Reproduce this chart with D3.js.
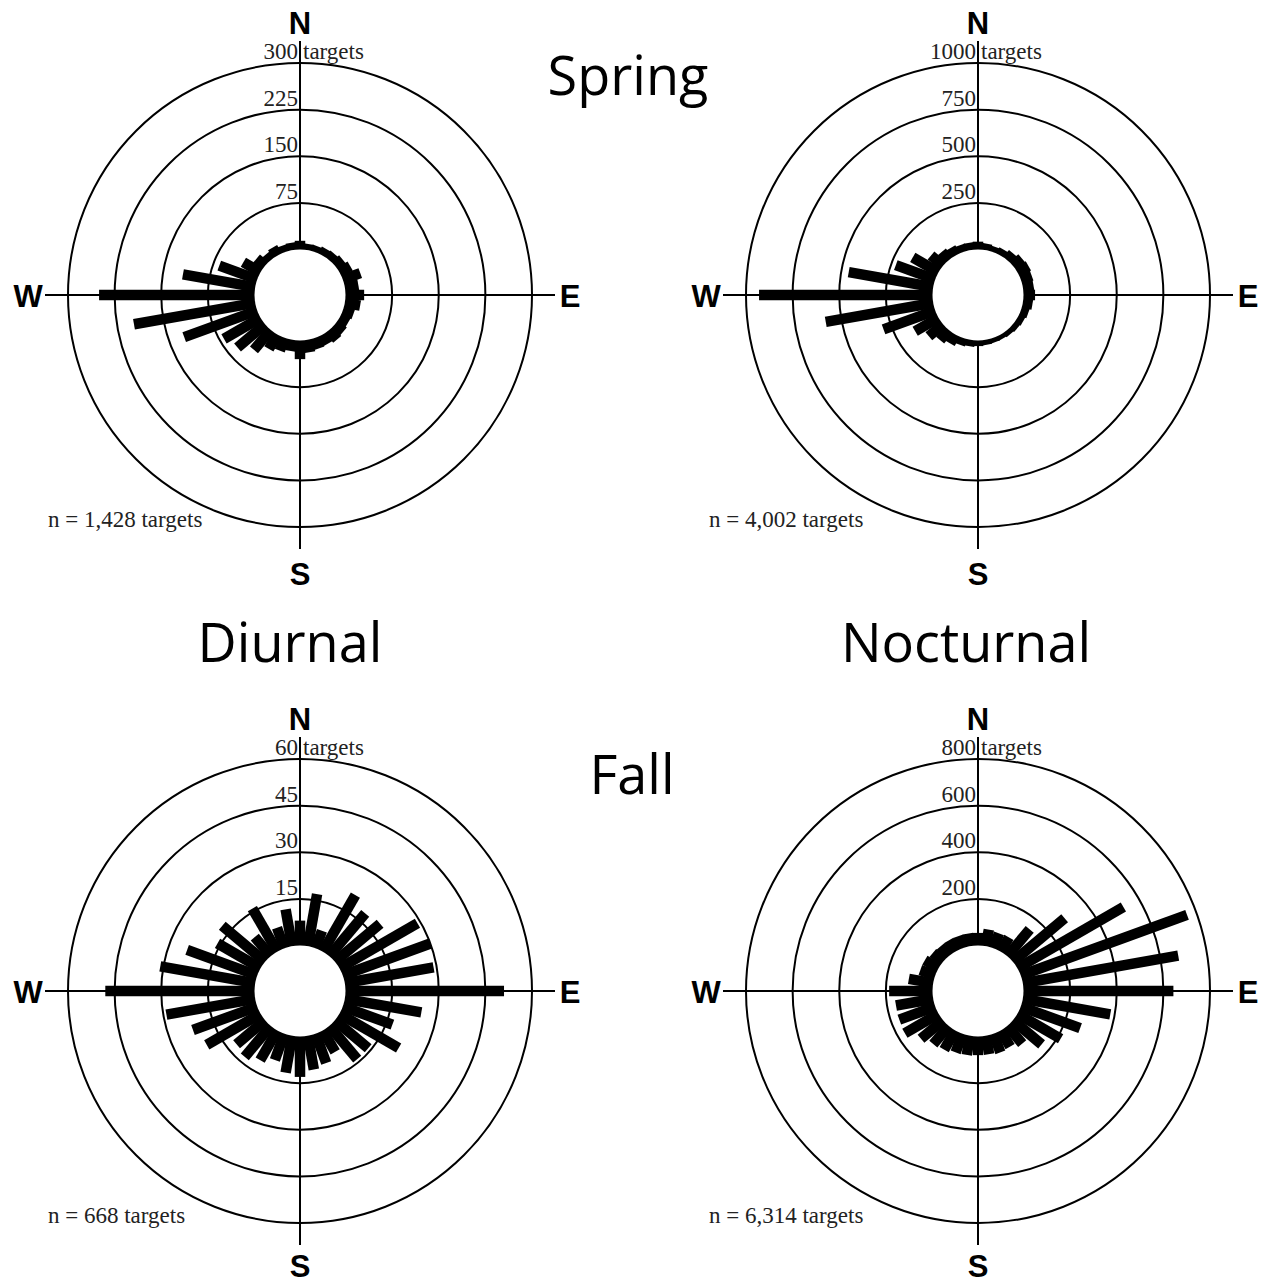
<!DOCTYPE html>
<html>
<head>
<meta charset="utf-8">
<script src="https://cdn.jsdelivr.net/npm/d3@7"></script>
<style>
  body { margin: 0; background: #fff; }
  svg { display: block; }
</style>
</head>
<body>
<div class="canvas"></div>
<script>
// bearings of the 36 bins (degrees from north, clockwise)
const bearings = d3.range(0, 360, 10)

// counts per bin
const springDiurnal = [14, 10, 10, 12, 13, 16, 20, 30, 22, 30,
    25, 18, 16, 18, 20, 17, 18, 20, 30, 18,
    22, 27, 42, 58, 68, 125, 198, 250, 118, 65,
    32, 18, 12, 15, 11, 12]
const springNocturnal = [42, 35, 30, 35, 48, 62, 68, 62, 58, 62,
    52, 42, 36, 32, 28, 25, 25, 27, 30, 34,
    40, 55, 72, 100, 145, 295, 585, 930, 460, 225,
    160, 85, 58, 48, 40, 40]
const fallDiurnal = [8, 17, 6, 21, 18, 19, 29, 30, 29, 51,
    25, 17, 22, 14, 14, 8, 10, 11, 13, 12,
    9, 11, 13, 12, 20, 22, 29, 48, 31, 24,
    16, 18, 8, 16, 7, 12]
const fallNocturnal = [54, 72, 68, 70, 150, 290, 525, 759, 677, 643,
    381, 271, 214, 161, 100, 80, 85, 80, 80, 83,
    85, 95, 103, 124, 167, 164, 162, 186, 106, 68,
    68, 58, 55, 55, 55, 55]

// ring tick labels for each rose
const springDiurnalTicks = [75, 150, 225, 300]
const springNocturnalTicks = [250, 500, 750, 1000]
const fallDiurnalTicks = [15, 30, 45, 60]
const fallNocturnalTicks = [200, 400, 600, 800]

const totals = ["n = 1,428 targets", "n = 4,002 targets", "n = 668 targets", "n = 6,314 targets"]
const titles = ["Spring", "Diurnal", "Nocturnal", "Fall"]

const width = 1264
const height = 1285

const svg = d3.select(".canvas")
    .append("svg")
    .attr("width", width)
    .attr("height", height)

const innerR = 45.5
const outerR = 232
const barWidth = 10.5

const panels = [
    { cx: 300, cy: 295, sY: 290, nX: -252, values: springDiurnal, ticks: springDiurnalTicks, n: totals[0] },
    { cx: 978, cy: 295, sY: 290, nX: -269, values: springNocturnal, ticks: springNocturnalTicks, n: totals[1] },
    { cx: 300, cy: 991, sY: 286, nX: -252, values: fallDiurnal, ticks: fallDiurnalTicks, n: totals[2] },
    { cx: 978, cy: 991, sY: 286, nX: -269, values: fallNocturnal, ticks: fallNocturnalTicks, n: totals[3] }
]

const serif = "'Liberation Serif', 'Times New Roman', serif"
const sans = "'Liberation Sans', Arial, sans-serif"
const titleFont = "'Open Sans', 'Noto Sans', sans-serif"

panels.forEach(p => {
    const g = svg.append("g")
        .attr("transform", `translate(${p.cx}, ${p.cy})`)

    const r = d3.scaleLinear()
        .domain([0, d3.max(p.ticks)])
        .range([innerR, outerR])

    // rings
    g.selectAll("circle.ring")
        .data(p.ticks)
        .enter()
        .append("circle")
        .attr("class", "ring")
        .attr("r", d => r(d))
        .attr("fill", "none")
        .attr("stroke", "#000")
        .attr("stroke-width", 2)

    // compass cross
    g.append("line")
        .attr("x1", 0).attr("x2", 0)
        .attr("y1", -254).attr("y2", 254)
        .attr("stroke", "#000").attr("stroke-width", 2)
    g.append("line")
        .attr("x1", -255).attr("x2", 255)
        .attr("y1", 0).attr("y2", 0)
        .attr("stroke", "#000").attr("stroke-width", 2)

    // bars
    g.selectAll("rect.bar")
        .data(p.values)
        .enter()
        .append("rect")
        .attr("class", "bar")
        .attr("x", -barWidth / 2)
        .attr("y", d => -r(d))
        .attr("width", barWidth)
        .attr("height", d => r(d))
        .attr("fill", "#000")
        .attr("transform", (d, i) => `rotate(${bearings[i]})`)

    // hole in the middle
    g.append("circle")
        .attr("r", innerR)
        .attr("fill", "#fff")

    // ring labels
    g.selectAll("text.tick")
        .data(p.ticks)
        .enter()
        .append("text")
        .attr("class", "tick")
        .attr("x", -2)
        .attr("y", d => -r(d) - 4)
        .attr("text-anchor", "end")
        .attr("font-family", serif)
        .attr("font-size", 23)
        .attr("fill", "#222")
        .text(d => d)

    g.append("text")
        .attr("x", 3)
        .attr("y", -r(d3.max(p.ticks)) - 4)
        .attr("font-family", serif)
        .attr("font-size", 23)
        .attr("fill", "#222")
        .text("targets")

    // compass letters
    const letters = [
        { t: "N", x: 0, y: -261 },
        { t: "S", x: 0, y: p.sY },
        { t: "W", x: -272, y: 12 },
        { t: "E", x: 270, y: 12 }
    ]
    g.selectAll("text.dir")
        .data(letters)
        .enter()
        .append("text")
        .attr("class", "dir")
        .attr("x", d => d.x)
        .attr("y", d => d.y)
        .attr("text-anchor", "middle")
        .attr("font-family", sans)
        .attr("font-weight", "bold")
        .attr("font-size", 31)
        .text(d => d.t)

    // sample size
    g.append("text")
        .attr("x", p.nX)
        .attr("y", 232)
        .attr("font-family", serif)
        .attr("font-size", 23)
        .attr("fill", "#222")
        .text(p.n)
})

// titles
const titlePos = [
    { x: 628, y: 95 },
    { x: 290, y: 662 },
    { x: 966, y: 662 },
    { x: 632, y: 794 }
]
svg.selectAll("text.title")
    .data(titles)
    .enter()
    .append("text")
    .attr("class", "title")
    .attr("x", (d, i) => titlePos[i].x)
    .attr("y", (d, i) => titlePos[i].y)
    .attr("text-anchor", "middle")
    .attr("font-family", titleFont)
    .attr("font-size", 54)
    .text(d => d)
</script>
</body>
</html>
